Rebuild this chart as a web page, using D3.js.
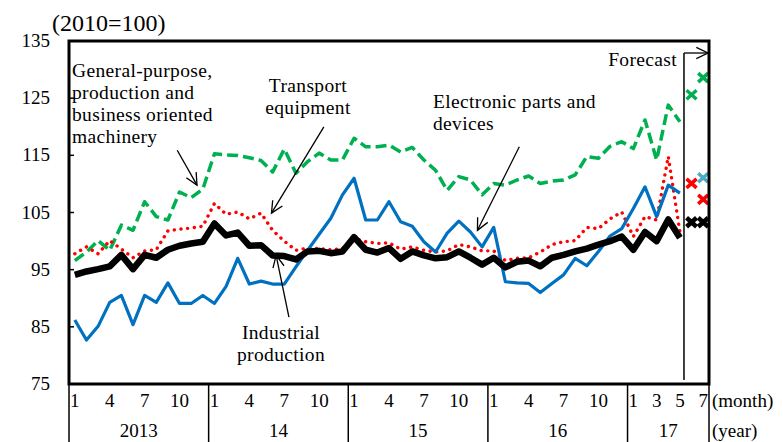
<!DOCTYPE html>
<html lang="en">
<head>
<meta charset="utf-8">
<style>
  body { margin: 0; background: #fff; }
  svg text { font-family: "Liberation Serif", "Times New Roman", serif; fill: #000; }
  .ann { font-size: 19.5px; letter-spacing: 0.35px; }
  .yaxis text { font-size: 19px; font-family: "Liberation Serif", serif; }
  .xlab { font-size: 19px; }
</style>
</head>
<body>
<svg id="chart" width="783" height="442"></svg>
<script src="https://cdn.jsdelivr.net/npm/d3@7"></script>
<script>
// categories: Jan 2013 .. Jul 2017
var years = ["2013", "14", "15", "16", "17"];
var monthsPerYear = [12, 12, 12, 12, 7];
var monthTicks = [[1, 4, 7, 10], [1, 4, 7, 10], [1, 4, 7, 10], [1, 4, 7, 10], [1, 3, 5, 7]];
var yTicks = [75, 85, 95, 105, 115, 125, 135];

// actual values, Jan 2013 .. May 2017
var industrial = [94.0, 94.6, 95.0, 95.5, 97.5, 95.0, 97.5, 97.0, 98.4, 99.1, 99.5, 99.8,
    103.0, 100.9, 101.4, 99.1, 99.2, 97.4, 97.3, 96.7, 98.1, 98.2, 97.8, 98.1,
    100.6, 98.4, 97.9, 98.7, 96.8, 98.1, 97.4, 96.9, 97.1, 98.1, 97.0, 95.8,
    97.0, 95.3, 96.3, 96.5, 95.5, 97.0, 97.5, 98.1, 98.6, 99.3, 99.9, 100.7,
    98.4, 101.5, 99.9, 103.7, 100.5];
var machinery = [96.5, 98.0, 100.0, 98.3, 102.7, 101.8, 106.8, 104.2, 103.6, 108.5, 107.5, 109.0,
    115.2, 115.0, 114.9, 114.5, 114.0, 112.0, 116.0, 111.8, 113.8, 115.3, 114.1, 114.1,
    117.9, 116.4, 116.4, 116.7, 115.5, 116.3, 114.1, 112.3, 108.8, 111.2, 110.6, 108.0,
    110.0, 109.7, 110.6, 111.3, 110.0, 110.4, 110.6, 111.5, 114.7, 114.4, 116.5, 117.3,
    116.1, 121.1, 114.1, 123.7, 120.8];
var transport = [97.7, 98.9, 97.7, 100.0, 98.5, 97.0, 98.2, 98.4, 101.7, 102.0, 102.2, 102.5,
    106.5, 104.6, 105.0, 103.8, 104.8, 101.8, 99.9, 98.3, 98.7, 98.6, 98.4, 98.6,
    100.4, 99.8, 99.5, 99.6, 98.5, 98.9, 98.3, 98.0, 98.2, 99.3, 98.9, 98.2,
    98.2, 96.5, 96.9, 97.0, 98.0, 99.3, 99.8, 100.0, 102.3, 102.1, 103.8, 105.0,
    100.7, 104.2, 103.6, 114.7, 101.5];
var electronic = [86.1, 82.6, 85.0, 89.2, 90.4, 85.3, 90.4, 89.2, 92.6, 89.0, 89.0, 90.4,
    89.0, 92.0, 96.9, 92.4, 92.9, 92.4, 92.4, 95.4, 98.3, 101.1, 103.9, 108.0,
    110.9, 103.6, 103.6, 106.8, 103.3, 102.5, 99.8, 98.0, 101.3, 103.4, 101.5, 98.9,
    102.3, 92.8, 92.6, 92.5, 90.9, 92.5, 94.0, 96.9, 95.6, 98.1, 100.8, 102.1,
    105.6, 109.4, 104.2, 109.7, 108.3];

// forecasts for Jun, Jul 2017
var industrialFc = [103.2, 103.2];
var machineryFc = [125.5, 128.5];
var transportFc = [110.0, 107.2];
var electronicFc = [null, 111.0];

var svg = d3.select("#chart");
var plotL = 69, plotR = 709, plotT = 41, plotB = 384;

var nMonths = d3.sum(monthsPerYear);
var x = d3.scaleBand().domain(d3.range(nMonths)).range([plotL, plotR]);
var cx = function (i) { return x(0) + (i + 0.5) * x.step(); };
var y = d3.scaleLinear().domain([75, 135]).range([383.5, 40.5]);

// y axis
svg.append("g")
    .attr("class", "yaxis")
    .attr("transform", "translate(" + plotL + ",0)")
    .call(d3.axisLeft(y).tickValues(yTicks).tickSize(-5).tickPadding(19).tickFormat(d3.format("d")))
    .call(function (g) { g.select(".domain").remove(); })
    .call(function (g) { g.selectAll("line").attr("stroke", "#000").attr("stroke-width", 1.5); });

svg.append("text").attr("x", 52).attr("y", 31).style("font-size", "24px").text("(2010=100)");

// month / year labels
var start = 0;
years.forEach(function (yr, k) {
    var n = monthsPerYear[k];
    monthTicks[k].forEach(function (m) {
        svg.append("text").attr("class", "xlab")
            .attr("x", cx(start + m - 1)).attr("y", 407)
            .attr("text-anchor", "middle").text(m);
    });
    svg.append("text").attr("class", "xlab")
        .attr("x", x(start) + n * x.step() / 2).attr("y", 437)
        .attr("text-anchor", "middle").text(yr);
    svg.append("line")
        .attr("x1", x(start)).attr("x2", x(start))
        .attr("y1", plotB).attr("y2", 442)
        .attr("stroke", "#000").attr("stroke-width", 1.5);
    start += n;
});
svg.append("line").attr("x1", plotR).attr("x2", plotR).attr("y1", plotB).attr("y2", 442)
    .attr("stroke", "#000").attr("stroke-width", 1.5);
svg.append("text").attr("class", "xlab").attr("x", 712).attr("y", 407).text("(month)");
svg.append("text").attr("class", "xlab").attr("x", 712).attr("y", 437).text("(year)");

// series
var line = d3.line().x(function (d, i) { return cx(i); }).y(function (d) { return y(d); });

var series = [
    { data: machinery, color: "#00b050", width: 3.5, dash: "11,5", cap: "butt" },
    { data: transport, color: "#ff0000", width: 3.4, dash: "0.1,6.6", cap: "round" },
    { data: electronic, color: "#0070c0", width: 3.2, dash: null, cap: "butt" },
    { data: industrial, color: "#000000", width: 6.5, dash: null, cap: "butt" }
];
series.forEach(function (s) {
    svg.append("path").datum(s.data)
        .attr("d", line)
        .attr("fill", "none")
        .attr("stroke", s.color)
        .attr("stroke-width", s.width)
        .attr("stroke-linejoin", "round")
        .attr("stroke-linecap", s.cap)
        .attr("stroke-dasharray", s.dash);
});

// forecast markers
var fcStart = industrial.length;
function cross(vals, color, sw) {
    vals.forEach(function (v, j) {
        if (v == null) return;
        var px = cx(fcStart + j), py = y(v);
        svg.append("path")
            .attr("d", "M" + (px - 5) + "," + (py - 4.5) + "L" + (px + 5) + "," + (py + 4.5) +
                "M" + (px - 5) + "," + (py + 4.5) + "L" + (px + 5) + "," + (py - 4.5))
            .attr("stroke", color).attr("stroke-width", sw).attr("fill", "none");
    });
}
cross(machineryFc, "#00b050", 3.5);
cross(transportFc, "#ff0000", 3.5);
cross(electronicFc, "#4bacc6", 3.5);
cross(industrialFc, "#000000", 4.5);

// plot frame
svg.append("rect")
    .attr("x", plotL).attr("y", plotT)
    .attr("width", plotR - plotL).attr("height", plotB - plotT)
    .attr("fill", "none").attr("stroke", "#000").attr("stroke-width", 3);

// arrows
function arrow(x1, y1, x2, y2) {
    svg.append("line").attr("x1", x1).attr("y1", y1).attr("x2", x2).attr("y2", y2)
        .attr("stroke", "#000").attr("stroke-width", 1.3);
    var a = Math.atan2(y2 - y1, x2 - x1), len = 13, w = 0.45;
    svg.append("path")
        .attr("d", "M" + (x2 - len * Math.cos(a - w)) + "," + (y2 - len * Math.sin(a - w)) +
            "L" + x2 + "," + y2 +
            "L" + (x2 - len * Math.cos(a + w)) + "," + (y2 - len * Math.sin(a + w)))
        .attr("fill", "none").attr("stroke", "#000").attr("stroke-width", 1.3);
}

var fx = cx(industrial.length - 1) + 0.35 * x.step();
svg.append("line").attr("x1", fx).attr("x2", fx).attr("y1", 53).attr("y2", 380)
    .attr("stroke", "#000").attr("stroke-width", 1.5);
arrow(fx, 53, plotR - 1, 53);

// annotations (month index, value)
var notes = [
    { lines: ["General-purpose,", "production and", "business oriented", "machinery"], x: 72, y: 77, anchor: "start", from: [8.8, 115.8], to: [10.5, 109.7] },
    { lines: ["Transport", "equipment"], x: 308, y: 92, anchor: "middle", from: [21.4, 119.9], to: [16.9, 104.8] },
    { lines: ["Electronic parts and", "devices"], x: 433, y: 108, anchor: "start", from: [38.2, 116.4], to: [34.6, 101.8] },
    { lines: ["Industrial", "production"], x: 281, y: 339, anchor: "middle", from: [18.4, 86.6], to: [17.3, 97.4] }
];
notes.forEach(function (n) {
    var t = svg.append("text").attr("class", "ann").attr("text-anchor", n.anchor);
    n.lines.forEach(function (l, i) {
        t.append("tspan").attr("x", n.x).attr("y", n.y + i * 22).text(l);
    });
    arrow(cx(n.from[0]), y(n.from[1]), cx(n.to[0]), y(n.to[1]));
});

svg.append("text").attr("class", "ann").attr("x", 677).attr("y", 66)
    .attr("text-anchor", "end").text("Forecast");
</script>
</body>
</html>
